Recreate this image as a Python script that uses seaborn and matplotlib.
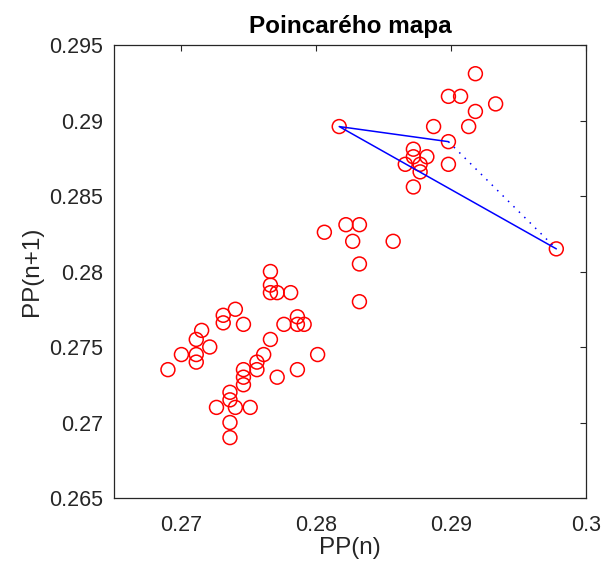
import matplotlib
matplotlib.use("Agg")
import matplotlib.pyplot as plt
import seaborn as sns
import pandas as pd

# Successive pulse periods: PP(n) against PP(n+1)
pp_n = [0.2690, 0.2700, 0.2711, 0.2711, 0.2711, 0.2715, 0.2721, 0.2731, 0.2731,
        0.2740, 0.2746, 0.2766, 0.2766, 0.2766, 0.2771, 0.2781, 0.2776, 0.2786,
        0.2786, 0.2791, 0.2766, 0.2761, 0.2756, 0.2756, 0.2746, 0.2746, 0.2746,
        0.2771, 0.2786, 0.2801, 0.2736, 0.2736, 0.2726, 0.2740, 0.2751, 0.2736,
        0.2736, 0.2827, 0.2832, 0.2832, 0.2822, 0.2832, 0.2806, 0.2857, 0.2918,
        0.2898, 0.2907, 0.2933, 0.2918, 0.2817, 0.2887, 0.2913, 0.2898, 0.2872,
        0.2872, 0.2882, 0.2866, 0.2877, 0.2877, 0.2898, 0.2872, 0.2978]
pp_n1 = [0.2735, 0.2745, 0.2745, 0.2740, 0.2755, 0.2761, 0.2750, 0.2771, 0.2766,
         0.2775, 0.2765, 0.2800, 0.2791, 0.2786, 0.2786, 0.2786, 0.2765, 0.2770,
         0.2765, 0.2765, 0.2755, 0.2745, 0.2740, 0.2735, 0.2735, 0.2730, 0.2725,
         0.2730, 0.2735, 0.2745, 0.2720, 0.2715, 0.2710, 0.2710, 0.2710, 0.2700,
         0.2690, 0.2820, 0.2805, 0.2780, 0.2831, 0.2831, 0.2826, 0.2820, 0.2931,
         0.2916, 0.2916, 0.2911, 0.2906, 0.2896, 0.2896, 0.2896, 0.2886, 0.2881,
         0.2876, 0.2876, 0.2871, 0.2871, 0.2866, 0.2871, 0.2856, 0.2815]

# Last transitions highlighted in blue
path_x = [0.2978, 0.2817, 0.2898]
path_y = [0.2815, 0.2896, 0.2886]
close_x = [0.2898, 0.2978]
close_y = [0.2886, 0.2815]

x_ticks = [0.27, 0.28, 0.29, 0.30]
x_tick_labels = ["0.27", "0.28", "0.29", "0.3"]
y_ticks = [0.265, 0.27, 0.275, 0.28, 0.285, 0.29, 0.295]
y_tick_labels = ["0.265", "0.27", "0.275", "0.28", "0.285", "0.29", "0.295"]

sns.set_theme(style="white")
plt.rcParams["font.family"] = ["Liberation Sans", "DejaVu Sans"]

fig = plt.figure(figsize=(6.08, 5.67), dpi=100)
ax = fig.add_axes([0.1875, 0.1217, 0.7763, 0.7989])

df = pd.DataFrame({"PP(n)": pp_n, "PP(n+1)": pp_n1})
sns.scatterplot(data=df, x="PP(n)", y="PP(n+1)", ax=ax, marker="o",
                facecolors="none", edgecolor="#ff0000", linewidth=1.1, s=100,
                zorder=2)

sns.lineplot(x=path_x, y=path_y, sort=False, ax=ax, color="#0000ff",
             linewidth=1.1, zorder=3)
sns.lineplot(x=close_x, y=close_y, sort=False, ax=ax, color="#0000ff",
             linewidth=1.1, linestyle=(0, (1, 4)), zorder=3)

ax.set_xlim(0.265, 0.30)
ax.set_ylim(0.265, 0.295)
ax.set_xticks(x_ticks)
ax.set_xticklabels(x_tick_labels)
ax.set_yticks(y_ticks)
ax.set_yticklabels(y_tick_labels)

dark = "#262626"
ax.tick_params(direction="in", length=4, width=0.8, colors=dark,
               labelsize=15.5, top=True, right=True)
ax.tick_params(axis="x", pad=12)
ax.tick_params(axis="y", pad=8)
for side in ax.spines.values():
    side.set_visible(True)
    side.set_color(dark)
    side.set_linewidth(0.9)

ax.set_xlabel("PP(n)", fontsize=17.5, color=dark, labelpad=1)
ax.set_ylabel("PP(n+1)", fontsize=17.5, color=dark, labelpad=4)
ax.set_title("Poincarého mapa", fontsize=17.5, fontweight="bold", color="black", pad=9)
ax.grid(False)

fig.savefig("out.png", dpi=100, facecolor="white")
